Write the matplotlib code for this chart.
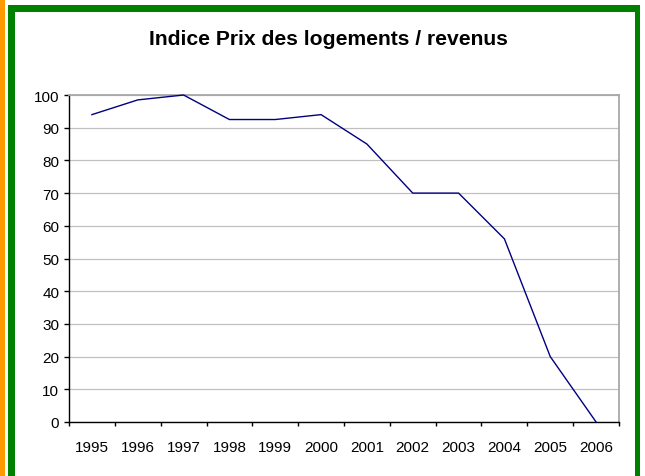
import matplotlib
matplotlib.use("Agg")
import matplotlib.pyplot as plt
from matplotlib.patches import Rectangle

years = ["1995", "1996", "1997", "1998", "1999", "2000", "2001", "2002", "2003", "2004", "2005", "2006"]
values = [94, 98.5, 100, 92.5, 92.5, 94, 85, 70, 70, 56, 20, 0]
yticks = [0, 10, 20, 30, 40, 50, 60, 70, 80, 90, 100]
title = "Indice Prix des logements / revenus"

plt.rcParams['font.family'] = ['Liberation Sans', 'DejaVu Sans']

W, H = 645, 477
fig = plt.figure(figsize=(W / 100, H / 100), dpi=100)

def frect(x0, y0, x1, y1, color):
    # pixel coordinates with y from top
    fig.patches.append(Rectangle((x0 / W, 1 - y1 / H), (x1 - x0) / W, (y1 - y0) / H,
                                 transform=fig.transFigure, color=color, lw=0, zorder=0))

frect(0, 0, 5, H, "#FF9900")
frect(8, 6, 15, H, "#008000")
frect(8, 6, 640, 13, "#008000")
frect(635, 6, 640, H, "#008000")

ax = fig.add_axes([69 / W, (H - 423) / H, 550 / W, (423 - 96) / H])
n = len(years)
xs = [i + 0.5 for i in range(n)]
ax.plot(xs, values, color="#000080", lw=1.0, zorder=3, clip_on=False)
ax.set_xlim(0, n)
ax.set_ylim(0, 100)
ax.set_yticks(yticks)
ax.set_yticklabels([str(v) for v in yticks])
ax.yaxis.grid(True, color="#C0C0C0", lw=0.9)
ax.set_axisbelow(True)

ax.set_xticks(range(n + 1))
ax.set_xticklabels([])
ax.set_xticks(xs, minor=True)
ax.set_xticklabels(years, minor=True)
ax.tick_params(axis="x", which="major", direction="out", length=3, width=1, color="black")
ax.tick_params(axis="x", which="minor", length=0, pad=13, labelsize=11)
ax.tick_params(axis="y", direction="out", length=3.5, width=1, pad=3.5, labelsize=11)

for s in ["left", "bottom"]:
    ax.spines[s].set_color("black")
    ax.spines[s].set_linewidth(1)
for s in ["top", "right"]:
    ax.spines[s].set_color("#A8A8A8")
    ax.spines[s].set_linewidth(1.3)

fig.text(328 / W, 1 - 39.5 / H, title, ha="center", va="center", fontsize=15.2, fontweight="bold")

fig.savefig("out.png", dpi=100)
